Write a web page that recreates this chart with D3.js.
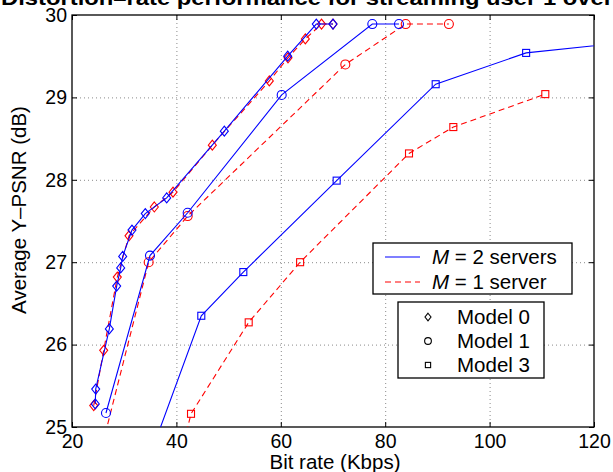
<!DOCTYPE html>
<html>
<head>
<meta charset="utf-8">
<script src="https://cdn.jsdelivr.net/npm/d3@7/dist/d3.min.js"></script>
<style>
  html, body { margin: 0; padding: 0; background: #fff; }
  svg { display: block; font-family: "Liberation Sans", Arial, Helvetica, sans-serif; }
</style>
</head>
<body>
<svg id="chart" width="613" height="472"></svg>
<script>
// Bit rate (Kbps) / average Y-PSNR (dB) pairs for each error model and server count
const model0_m2 = [[24.46,25.28],[24.54,25.46],[27.15,26.19],[28.56,26.71],[29.33,26.93],[29.71,27.07],[31.49,27.39],[34.04,27.59],[38.14,27.78],[49.18,28.59],[61.32,29.50],[66.8,29.89],[70.0,29.89]];
const model0_m1 = [[24.16,25.26],[26.07,25.93],[28.68,26.82],[30.92,27.32],[35.77,27.67],[39.35,27.85],[46.88,28.42],[57.8,29.20],[61.38,29.48],[64.7,29.71],[67.8,29.89],[70.0,29.89]];
const model1_m2 = [[26.51,25.17],[34.94,27.08],[42.16,27.60],[60.17,29.03],[77.53,29.89],[82.64,29.89]];
const model1_m1 = [[25.9,24.8],[34.69,27.00],[42.16,27.56],[72.36,29.40],[83.93,29.89],[92.2,29.89]];
const model3_m2 = [[33.5,24.4],[44.77,26.35],[52.82,26.88],[70.7,27.99],[89.67,29.16],[107.0,29.54],[128.0,29.68]];
const model3_m1 = [[41.0,24.7],[42.8,25.16],[53.85,26.27],[63.7,27.00],[84.56,28.32],[93.05,28.64],[110.67,29.04]];

const xTicks = [20, 40, 60, 80, 100, 120];
const yTicks = [25, 26, 27, 28, 29, 30];

const titleText = "Distortion\u2013rate performance for streaming user 1 over";
const xLabel = "Bit rate (Kbps)";
const yLabel = "Average Y\u2013PSNR (dB)";
const serverLegend = [["2 servers", "solid"], ["1 server", "dashed"]];
const modelLegend = [["Model 0", "diamond"], ["Model 1", "circle"], ["Model 3", "square"]];

const BLUE = "#0000ff", RED = "#ff0000";

const svg = d3.select("#chart");
const plot = { left: 72, right: 594, top: 15, bottom: 427 };

const x = d3.scaleLinear().domain([20, 120]).range([plot.left, plot.right]);
const y = d3.scaleLinear().domain([25, 30]).range([plot.bottom, plot.top]);

svg.append("defs").append("clipPath").attr("id", "plotClip")
  .append("rect")
  .attr("x", plot.left).attr("y", plot.top)
  .attr("width", plot.right - plot.left).attr("height", plot.bottom - plot.top);

// Title (runs past the top edge)
svg.append("text")
  .attr("x", 1).attr("y", 5)
  .attr("textLength", 612).attr("lengthAdjust", "spacingAndGlyphs")
  .attr("font-size", 20).attr("font-weight", "bold")
  .text(titleText);

// Dotted grid
const grid = svg.append("g").attr("stroke", "#8a8a8a").attr("stroke-width", 1).attr("stroke-dasharray", "1,3");
grid.selectAll(".gx").data(xTicks.slice(1, -1)).join("line")
  .attr("x1", d => x(d) + 0.5).attr("x2", d => x(d) + 0.5)
  .attr("y1", plot.top).attr("y2", plot.bottom);
grid.selectAll(".gy").data(yTicks.slice(1, -1)).join("line")
  .attr("y1", d => y(d) + 0.5).attr("y2", d => y(d) + 0.5)
  .attr("x1", plot.left).attr("x2", plot.right);

// Axes with inward ticks on all four sides
const tickLen = 5;
const fontTick = 19.5;
const fmt = d3.format("d");
const axB = svg.append("g").attr("transform", `translate(0,${plot.bottom})`)
  .call(d3.axisBottom(x).tickValues(xTicks).tickFormat(fmt).tickSizeInner(-tickLen).tickSizeOuter(0).tickPadding(7));
const axT = svg.append("g").attr("transform", `translate(0,${plot.top})`)
  .call(d3.axisTop(x).tickValues(xTicks).tickSizeInner(-tickLen).tickSizeOuter(0).tickFormat(""));
const axL = svg.append("g").attr("transform", `translate(${plot.left},0)`)
  .call(d3.axisLeft(y).tickValues(yTicks).tickFormat(fmt).tickSizeInner(-tickLen).tickSizeOuter(0).tickPadding(5));
const axR = svg.append("g").attr("transform", `translate(${plot.right},0)`)
  .call(d3.axisRight(y).tickValues(yTicks).tickSizeInner(-tickLen).tickSizeOuter(0).tickFormat(""));
[axB, axT, axL, axR].forEach(a => {
  a.select(".domain").remove();
  a.selectAll(".tick line").attr("stroke", "#000").attr("stroke-width", 1);
  a.selectAll("text").attr("font-size", fontTick).attr("font-family", "Liberation Sans, Arial, sans-serif").attr("fill", "#000");
});
axB.selectAll("text").attr("dy", "0.71em");

// Axis box
svg.append("rect")
  .attr("x", plot.left).attr("y", plot.top)
  .attr("width", plot.right - plot.left).attr("height", plot.bottom - plot.top)
  .attr("fill", "none").attr("stroke", "#000").attr("stroke-width", 1.3);

// Axis labels
svg.append("text")
  .attr("x", (plot.left + plot.right) / 2 + 2).attr("y", 469)
  .attr("text-anchor", "middle").attr("font-size", 20.5)
  .text(xLabel);
svg.append("text")
  .attr("transform", `translate(26,210) rotate(-90)`)
  .attr("text-anchor", "middle").attr("font-size", 20.5)
  .text(yLabel);

// Marker shapes
function marker(g, shape, cx, cy, color, scale) {
  const s = scale || 1;
  if (shape === "diamond") {
    g.append("path")
      .attr("d", `M${cx},${cy - 5 * s}L${cx + 4 * s},${cy}L${cx},${cy + 5 * s}L${cx - 4 * s},${cy}Z`)
      .attr("fill", "none").attr("stroke", color).attr("stroke-width", 1.1);
  } else if (shape === "circle") {
    g.append("circle").attr("cx", cx).attr("cy", cy).attr("r", 4.5 * s)
      .attr("fill", "none").attr("stroke", color).attr("stroke-width", 1.1);
  } else {
    g.append("rect").attr("x", cx - 3.5 * s).attr("y", cy - 3.5 * s)
      .attr("width", 7 * s).attr("height", 7 * s)
      .attr("fill", "none").attr("stroke", color).attr("stroke-width", 1.1);
  }
}

const series = [
  { data: model3_m1, color: RED, dash: "6,4", shape: "square" },
  { data: model3_m2, color: BLUE, dash: null, shape: "square" },
  { data: model1_m1, color: RED, dash: "6,4", shape: "circle" },
  { data: model1_m2, color: BLUE, dash: null, shape: "circle" },
  { data: model0_m1, color: RED, dash: "6,4", shape: "diamond" },
  { data: model0_m2, color: BLUE, dash: null, shape: "diamond" }
];

const line = d3.line().x(d => x(d[0])).y(d => y(d[1]));
const plotG = svg.append("g").attr("clip-path", "url(#plotClip)");

series.forEach(s => {
  plotG.append("path")
    .attr("d", line(s.data))
    .attr("fill", "none").attr("stroke", s.color).attr("stroke-width", 1.1)
    .attr("stroke-dasharray", s.dash);
  const mg = plotG.append("g");
  s.data.forEach(d => marker(mg, s.shape, x(d[0]), y(d[1]), s.color));
});

// Legend for server count
const lg1 = svg.append("g");
lg1.append("rect").attr("x", 373).attr("y", 243).attr("width", 199).attr("height", 51)
  .attr("fill", "#fff").attr("stroke", "#000").attr("stroke-width", 1.3);
serverLegend.forEach((item, i) => {
  const yy = 257 + i * 25;
  lg1.append("line").attr("x1", 385).attr("x2", 420).attr("y1", yy).attr("y2", yy)
    .attr("stroke", i === 0 ? BLUE : RED).attr("stroke-width", 1.1)
    .attr("stroke-dasharray", item[1] === "dashed" ? "6,4" : null);
  const t = lg1.append("text").attr("x", 432).attr("y", yy + 7).attr("font-size", 20.5);
  t.append("tspan").attr("font-style", "italic").text("M");
  t.append("tspan").text(" = " + item[0]);
});

// Legend for error model markers
const lg2 = svg.append("g");
lg2.append("rect").attr("x", 398).attr("y", 302).attr("width", 146).attr("height", 76)
  .attr("fill", "#fff").attr("stroke", "#000").attr("stroke-width", 1.3);
modelLegend.forEach((item, i) => {
  const yy = 317 + i * 24;
  marker(lg2, item[1], 428, yy, "#000", 0.75);
  lg2.append("text").attr("x", 457).attr("y", yy + 7).attr("font-size", 20.5).text(item[0]);
});
</script>
</body>
</html>
